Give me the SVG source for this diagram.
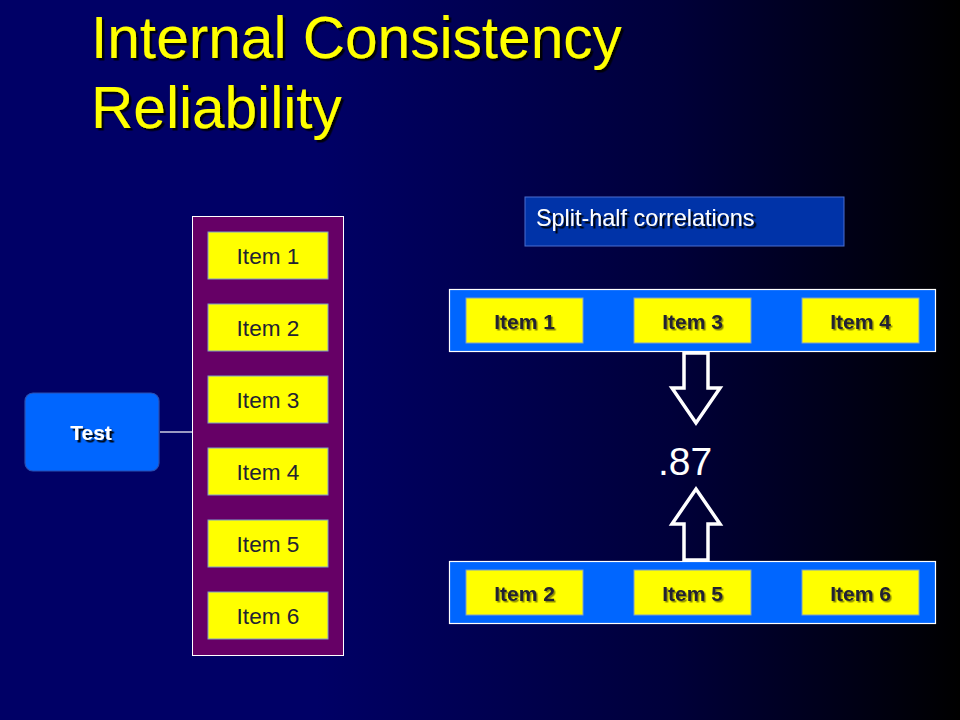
<svg xmlns="http://www.w3.org/2000/svg" width="960" height="720" viewBox="0 0 960 720">
  <defs>
    <linearGradient id="bg" x1="0" y1="0" x2="1" y2="0">
      <stop offset="0" stop-color="#000066"/>
      <stop offset="0.33" stop-color="#000066"/>
      <stop offset="0.7" stop-color="#00003a"/>
      <stop offset="1" stop-color="#000000"/>
    </linearGradient>
    <filter id="sh" x="-10%" y="-10%" width="130%" height="140%">
      <feDropShadow dx="2.5" dy="2.5" stdDeviation="0.6" flood-color="#000000" flood-opacity="0.9"/>
    </filter>
    <filter id="shl" x="-10%" y="-10%" width="130%" height="140%">
      <feDropShadow dx="1.5" dy="1.5" stdDeviation="0.6" flood-color="#000000" flood-opacity="0.45"/>
    </filter>
  </defs>
  <style>
    .title { font-family: "Liberation Sans", Arial, sans-serif; font-size: 58.6px; fill: #FFFF00; }
    .litem { fill: #FFFF00; stroke: #7f9fc8; stroke-width: 1; }
    .ltext { font-family: "Liberation Sans", Arial, sans-serif; font-size: 22.6px; fill: #222233; text-anchor: middle; }
    .bar { fill: #0066FF; stroke: #FFFFFF; stroke-width: 1.2; }
    .ritem { fill: #FFFF00; stroke: #7f9fc8; stroke-width: 1; }
    .rtext { font-family: "Liberation Sans", Arial, sans-serif; font-size: 21px; font-weight: bold; fill: #222233; text-anchor: middle; }
    .wtext { font-family: "Liberation Sans", Arial, sans-serif; fill: #FFFFFF; }
    .arrow { fill: none; stroke: #FFFFFF; stroke-width: 3.5; stroke-linejoin: miter; }
    .conn { stroke: #FFFFFF; stroke-width: 1.2; fill: none; }
  </style>

  <rect x="0" y="0" width="960" height="720" fill="url(#bg)"/>

  <g id="title" filter="url(#sh)">
    <text class="title" x="91" y="58">Internal Consistency</text>
    <text class="title" x="91" y="128">Reliability</text>
  </g>

  <g id="connectors">
    <line class="conn" x1="160" y1="432" x2="192" y2="432"/>
  </g>

  <g id="test">
    <rect x="25" y="393" width="134" height="78" rx="8" ry="8" fill="#0066FF" stroke="#2a4fb0" stroke-width="1.2"/>
    <text class="wtext" x="91" y="440" font-size="21" font-weight="bold" text-anchor="middle" filter="url(#sh)">Test</text>
  </g>

  <g id="items-column">
    <rect x="192.5" y="216.5" width="151" height="439" fill="#660066" stroke="#FFFFFF" stroke-width="1"/>
    <g id="left-item1"><rect class="litem" x="208" y="232" width="120" height="47"/><text class="ltext" x="268" y="264">Item 1</text></g>
    <g id="left-item2"><rect class="litem" x="208" y="304" width="120" height="47"/><text class="ltext" x="268" y="336">Item 2</text></g>
    <g id="left-item3"><rect class="litem" x="208" y="376" width="120" height="47"/><text class="ltext" x="268" y="408">Item 3</text></g>
    <g id="left-item4"><rect class="litem" x="208" y="448" width="120" height="47"/><text class="ltext" x="268" y="480">Item 4</text></g>
    <g id="left-item5"><rect class="litem" x="208" y="520" width="120" height="47"/><text class="ltext" x="268" y="552">Item 5</text></g>
    <g id="left-item6"><rect class="litem" x="208" y="592" width="120" height="47"/><text class="ltext" x="268" y="624">Item 6</text></g>
  </g>

  <g id="split-half-label">
    <rect x="525" y="197" width="319" height="49" fill="#0033A8" stroke="#4a6fd0" stroke-width="1"/>
    <text class="wtext" x="536" y="226" font-size="23.4" filter="url(#sh)">Split-half correlations</text>
  </g>

  <g id="half-a">
    <rect class="bar" x="449.5" y="289.5" width="486" height="62"/>
    <g id="top-item1"><rect class="ritem" x="466" y="298" width="117" height="45"/><text class="rtext" x="524.5" y="329" filter="url(#shl)">Item 1</text></g>
    <g id="top-item3"><rect class="ritem" x="634" y="298" width="117" height="45"/><text class="rtext" x="692.5" y="329" filter="url(#shl)">Item 3</text></g>
    <g id="top-item4"><rect class="ritem" x="802" y="298" width="117" height="45"/><text class="rtext" x="860.5" y="329" filter="url(#shl)">Item 4</text></g>
  </g>

  <g id="half-b">
    <rect class="bar" x="449.5" y="561.5" width="486" height="62"/>
    <g id="bot-item2"><rect class="ritem" x="466" y="570" width="117" height="45"/><text class="rtext" x="524.5" y="601" filter="url(#shl)">Item 2</text></g>
    <g id="bot-item5"><rect class="ritem" x="634" y="570" width="117" height="45"/><text class="rtext" x="692.5" y="601" filter="url(#shl)">Item 5</text></g>
    <g id="bot-item6"><rect class="ritem" x="802" y="570" width="117" height="45"/><text class="rtext" x="860.5" y="601" filter="url(#shl)">Item 6</text></g>
  </g>

  <g id="arrows">
    <path class="arrow" d="M684,353 L708,353 L708,388 L720,388 L696,423 L672,388 L684,388 Z"/>
    <path class="arrow" d="M684,560 L708,560 L708,524 L720,524 L696,489 L672,524 L684,524 Z"/>
  </g>

  <g id="result">
    <text class="wtext" x="685" y="475" font-size="39" text-anchor="middle">.87</text>
  </g>
</svg>
